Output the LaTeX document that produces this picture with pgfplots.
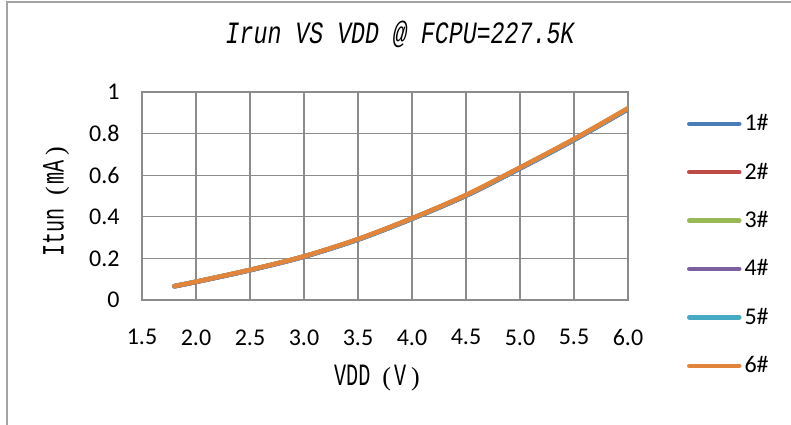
\documentclass[border=0pt]{standalone}
\usepackage{fontspec}
\usepackage{pgfplots}
\pgfplotsset{compat=1.18}
\setmainfont{Liberation Serif}
\newfontfamily\tickfont{Carlito}
\newfontfamily\titlefont[FakeStretch=0.75]{Liberation Mono}
\newfontfamily\labfont[FakeStretch=0.65]{Liberation Mono}
\newfontfamily\parenfont{Liberation Serif}
\newcommand\fwp[1]{{\parenfont\fontsize{26bp}{26bp}\selectfont #1}}

\definecolor{gridgray}{HTML}{8C8C8C}
\definecolor{cA}{HTML}{4A7EBB}
\definecolor{cB}{HTML}{BE4B48}
\definecolor{cC}{HTML}{98B954}
\definecolor{cD}{HTML}{7D60A0}
\definecolor{cE}{HTML}{46AAC5}
\definecolor{cF}{HTML}{E2843A}

\begin{document}
\begin{tikzpicture}
\path[use as bounding box] (0bp,0bp) rectangle (791bp,425bp);
\draw[gridgray!80, line width=1.3bp] (7bp,0bp) -- (7bp,423bp) -- (791bp,423bp);
\begin{axis}[
at={(142bp,125bp)}, anchor=south west,
scale only axis, width=486bp, height=208bp,
xmin=1.5, xmax=6, ymin=0, ymax=1,
xtick={1.5,2,2.5,3,3.5,4,4.5,5,5.5,6},
ytick={0,0.2,0.4,0.6,0.8,1},
grid=major,
grid style={gridgray, line width=1.3bp},
axis line style={gridgray, line width=1.3bp},
major tick length=0pt,
/pgf/number format/assume math mode=true,
xticklabel style={font=\tickfont\fontsize{24bp}{24bp}\selectfont, yshift=-26bp,
  /pgf/number format/.cd, fixed, fixed zerofill, precision=1},
yticklabel style={font=\tickfont\fontsize{24bp}{24bp}\selectfont, xshift=-19bp},
title={\titlefont\itshape\fontsize{31bp}{31bp}\selectfont Irun VS VDD @ FCPU=227.5K},
title style={at={(axis description cs:0.531,1.25)}, anchor=center, inner sep=0pt},
xlabel={\labfont\fontsize{31bp}{31bp}\selectfont VDD\hspace{12bp}\fwp{(}\hspace{3bp}V\hspace{5bp}\fwp{)}},
xlabel style={at={(axis description cs:0.4835,-0.375)}, anchor=center, inner sep=0pt},
ylabel={\labfont\fontsize{31bp}{31bp}\selectfont Itun\hspace{12bp}\fwp{(}\hspace{3bp}mA\hspace{5bp}\fwp{)}},
ylabel style={at={(axis description cs:-0.177,0.474)}, anchor=center, inner sep=0pt},
legend image code/.code={\draw[#1, line width=4.5bp, line cap=round] (0bp,0bp) -- (50bp,0bp);},
legend cell align=left,
legend style={at={(axis description cs:1.121,0.889)}, anchor=north west, draw=none, fill=none,
  inner sep=0pt, row sep=31.4bp,
  font=\tickfont\fontsize{24bp}{24bp}\selectfont,
  nodes={inner xsep=3bp, inner ysep=1.5bp, text height=14bp, text depth=0bp}},
every axis plot/.append style={line width=4.5bp, line cap=round, line join=round, smooth}
]
\addplot[cA] coordinates {(1.8,0.066)(2.0,0.087)(2.5,0.144)(3.0,0.209)(3.5,0.291)(4.0,0.391)(4.5,0.502)(5.0,0.633)(5.5,0.770)(6.0,0.918)};
\addlegendentry{1\#}
\addplot[cB] coordinates {(1.8,0.066)(2.0,0.087)(2.5,0.144)(3.0,0.209)(3.5,0.292)(4.0,0.392)(4.5,0.503)(5.0,0.635)(5.5,0.772)(6.0,0.920)};
\addlegendentry{2\#}
\addplot[cC] coordinates {(1.8,0.067)(2.0,0.088)(2.5,0.145)(3.0,0.210)(3.5,0.292)(4.0,0.392)(4.5,0.504)(5.0,0.636)(5.5,0.773)(6.0,0.921)};
\addlegendentry{3\#}
\addplot[cD] coordinates {(1.8,0.066)(2.0,0.087)(2.5,0.143)(3.0,0.208)(3.5,0.290)(4.0,0.390)(4.5,0.501)(5.0,0.632)(5.5,0.769)(6.0,0.917)};
\addlegendentry{4\#}
\addplot[cE] coordinates {(1.8,0.067)(2.0,0.088)(2.5,0.144)(3.0,0.209)(3.5,0.291)(4.0,0.391)(4.5,0.503)(5.0,0.634)(5.5,0.771)(6.0,0.919)};
\addlegendentry{5\#}
\addplot[cF] coordinates {(1.8,0.067)(2.0,0.088)(2.5,0.145)(3.0,0.210)(3.5,0.293)(4.0,0.393)(4.5,0.505)(5.0,0.637)(5.5,0.774)(6.0,0.922)};
\addlegendentry{6\#}
\end{axis}
\end{tikzpicture}
\end{document}
